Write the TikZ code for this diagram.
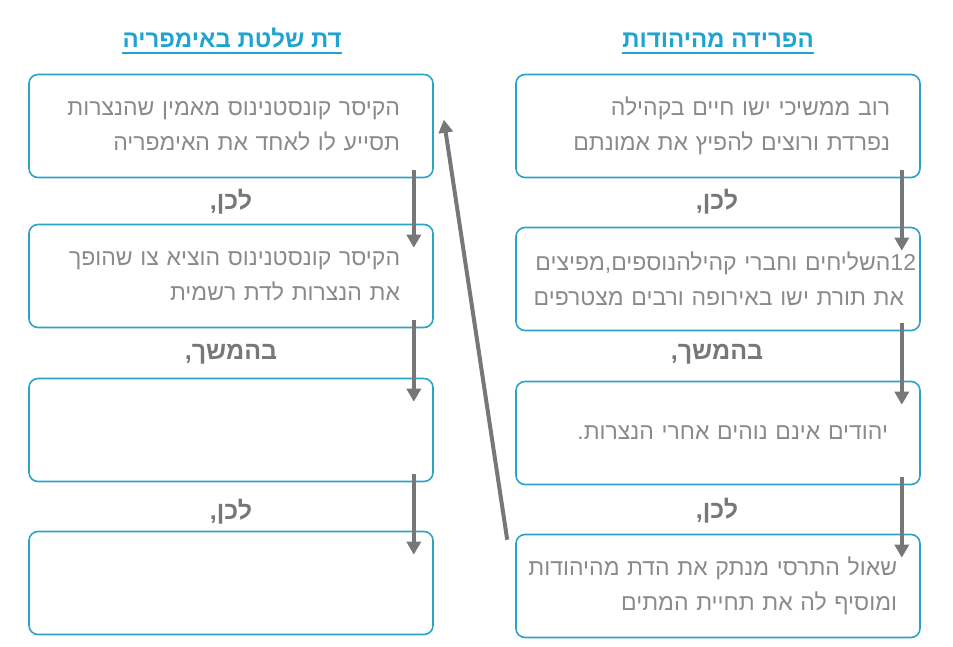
\documentclass[tikz,border=0pt]{standalone}
\usepackage{fontspec}
\usepackage{tikz}
\usetikzlibrary{arrows.meta, positioning, shapes}
\TeXXeTstate=1
\newfontfamily\hebfont[Script=Hebrew]{Liberation Sans}
\definecolor{boxblue}{HTML}{2BA3C6}
\definecolor{titleblue}{HTML}{1FA3CF}
\definecolor{txtgray}{HTML}{8A8A8A}
\definecolor{arrgray}{HTML}{777777}
\tikzset{mybox/.style = {draw=boxblue,line width=1.6pt,rounded corners=9pt,minimum width=404pt,minimum height=103pt,text width=396pt,inner xsep=4pt,align=right,text=txtgray,font=\hebfont\fontsize{23}{35}\selectfont}}
\tikzset{mylink/.style = {text=arrgray,font=\hebfont\bfseries\fontsize{25}{28}\selectfont}}
\tikzset{mytitle/.style = {text=titleblue,inner sep=0pt,font=\hebfont\bfseries\fontsize{24}{28}\selectfont}}
\tikzset{myflow/.style = {draw=arrgray,line width=4pt,-{Triangle[width=14pt,length=13pt]}}}
\NewDocumentCommand{\heb}{O{0pt} m}{\beginR\hspace*{#1}#2\endR}
\NewDocumentCommand{\fdown}{O{-20pt} m m}{%
	\draw[myflow] ([shift={(#1,8pt)}]#2.south east) -- ([shift={(#1,-24pt)}]#3.north east);
}

\begin{document}
\begin{tikzpicture}[x=1pt,y=-1pt]
\useasboundingbox (0,0) rectangle (953,647);
\node[mytitle,anchor=base] (tr) at (718,48) {\heb{הפרידה מהיהודות}};
\node[mytitle,anchor=base] (tl) at (232,48) {\heb{דת שלטת באימפריה}};
\draw[titleblue,line width=1.5pt] ([yshift=-5pt]tr.base west) -- ([yshift=-5pt]tr.base east);
\draw[titleblue,line width=1.5pt] ([yshift=-5pt]tl.base west) -- ([yshift=-5pt]tl.base east);

\node[mybox] (r1) at (718,126) {\heb[26pt]{רוב ממשיכי ישו חיים בקהילה}\\\heb[26pt]{נפרדת ורוצים להפיץ את אמונתם}};
\node[mybox] (r2) at (718,279) {\heb{\beginL12\endL השליחים וחברי קהילהנוספים,מפיצים}\\\heb[12pt]{את תורת ישו באירופה ורבים מצטרפים}};
\node[mybox] (r3) at (718,433) {\heb[28pt]{יהודים אינם נוהים אחרי הנצרות.}};
\node[mybox] (r4) at (718,586) {\heb[19pt]{שאול התרסי מנתק את הדת מהיהודות}\\\heb[19pt]{ומוסיף לה את תחיית המתים}};

\node[mybox] (l1) at (231,126) {\heb[29pt]{הקיסר קונסטנינוס מאמין שהנצרות}\\\heb[29pt]{תסייע לו לאחד את האימפריה}};
\node[mybox] (l2) at (231,276) {\heb[29pt]{הקיסר קונסטנינוס הוציא צו שהופך}\\\heb[29pt]{את הנצרות לדת רשמית}};
\node[mybox] (l3) at (231,430) {};
\node[mybox] (l4) at (231,583) {};

\node[mylink] (rk1) at (717,202) {\heb{לכן,}};
\node[mylink] (rk2) at (717,354) {\heb{בהמשך,}};
\node[mylink] (rk3) at (717,511) {\heb{לכן,}};
\node[mylink] (lk1) at (231,202) {\heb{לכן,}};
\node[mylink] (lk2) at (231,354) {\heb{בהמשך,}};
\node[mylink] (lk3) at (231,512) {\heb{לכן,}};

\fdown[-19pt]{r1}{r2}
\fdown[-19pt]{r2}{r3}
\fdown[-19pt]{r3}{r4}
\fdown[-20pt]{l1}{l2}
\fdown[-20pt]{l2}{l3}
\fdown[-20pt]{l3}{l4}
\draw[myflow] ([shift={(-8pt,-6pt)}]r4.north west) -- ([shift={(10pt,-46pt)}]l1.north east);
\end{tikzpicture}
\end{document}
